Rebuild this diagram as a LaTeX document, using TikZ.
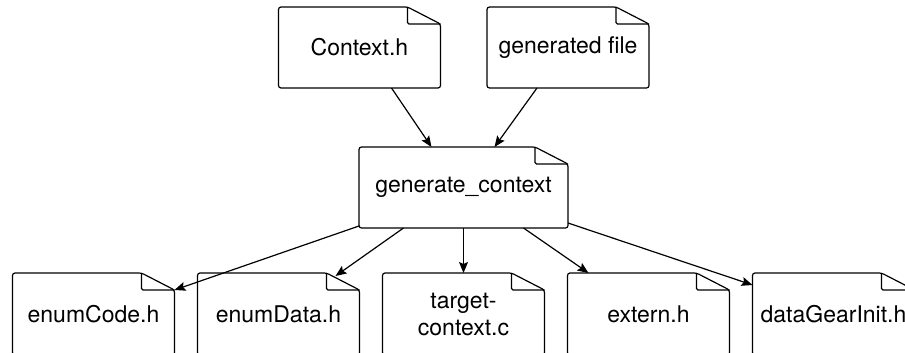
\documentclass[tikz,border=0pt]{standalone}
\usepackage{fontspec}
\setmainfont{TeX Gyre Heros}
\usetikzlibrary{arrows.meta}
\begin{document}
\begin{tikzpicture}[x=1pt,y=-1pt,line width=1.2pt,
  every node/.style={inner sep=0pt,outer sep=0pt,minimum height=81pt,minimum width=162pt,
    align=center,font=\fontsize{23}{27}\selectfont},
  arr/.style={-{Stealth[length=11pt,width=9pt,inset=2pt]}}]
\useasboundingbox (0,0) rectangle (905,353);
\clip (0,0) rectangle (905,353);
\node (ctx) at (359.5,47.5) {Context.h};
\node (gfile) at (568,47.5) {generated file};
\node[minimum width=209pt] (gen) at (463.5,187.5) {generate\_context};
\foreach[count=\k] \t in {enumCode.h,enumData.h,{target-\\context.c},extern.h,dataGearInit.h}
   \node[minimum height=82pt] (f\k) at ({93.5+(\k-1)*185},314) {\t};
% note outline with folded corner
\foreach \n in {ctx,gfile,gen,f1,f2,f3,f4,f5} {
   \draw[rounded corners=2.5pt] ([xshift=-33pt]\n.north east) -- (\n.north west) -- (\n.south west)
      -- (\n.south east) -- ([yshift=-17pt]\n.north east) -- cycle;
   \draw[rounded corners=1.5pt] ([xshift=-33pt]\n.north east) |- ([yshift=-17pt]\n.north east);}
% inputs
\draw[arr] ([xshift=32pt]ctx.south) -- ([xshift=-32pt]gen.north);
\draw[arr] ([xshift=-31pt]gfile.south) -- ([xshift=31pt]gen.north);
% outputs
\draw[arr] ([yshift=2pt]gen.south west) -- ([yshift=-17pt]f1.north east);
\draw[arr] ([xshift=-60pt]gen.south) -- ([xshift=-24pt,yshift=-3pt]f2.north east);
\draw[arr] (gen.south) -- (f3.north);
\draw[arr] ([xshift=60pt]gen.south) -- ([xshift=-60pt]f4.north);
\draw[arr] ([yshift=5pt]gen.south east) -- ([yshift=-12pt]f5.north west);
\end{tikzpicture}
\end{document}
